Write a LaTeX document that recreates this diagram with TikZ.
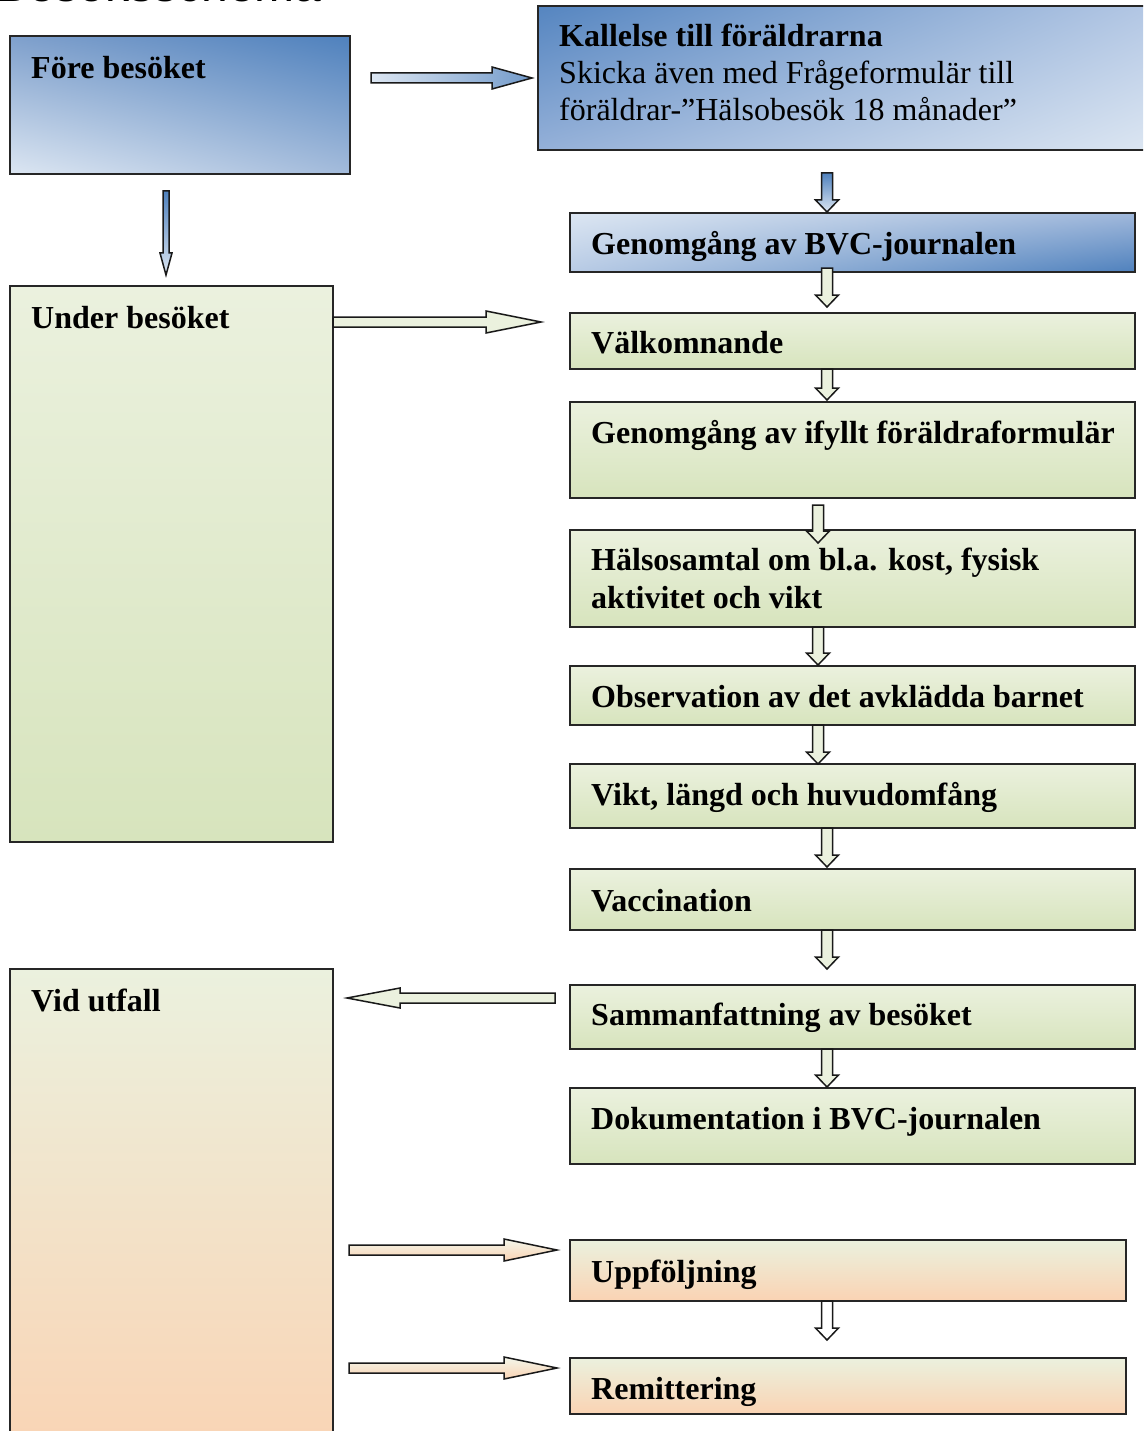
\documentclass[tikz,border=0pt]{standalone}
\usepackage{fontspec}
\setmainfont{Liberation Serif}
\setsansfont{Liberation Sans}
\usetikzlibrary{calc,shadings}
\definecolor{blueD}{HTML}{4F81BD}
\definecolor{blueM}{HTML}{95B3D7}
\definecolor{blueL}{HTML}{DCE6F2}
\definecolor{foreUL}{HTML}{7FA0CC}
\definecolor{foreLR}{HTML}{A3BBDB}
\definecolor{kallUL}{HTML}{5585C0}
\definecolor{kallUR}{HTML}{B3C7E4}
\definecolor{kallLL}{HTML}{94B0D8}
\definecolor{bvcUR}{HTML}{A0B8DB}
\definecolor{bvcLL}{HTML}{B8CBE5}
\definecolor{greenL}{HTML}{EBF1DE}
\definecolor{greenD}{HTML}{D7E4BD}
\definecolor{peach}{HTML}{FAD3B3}
\tikzset{
  box/.style={draw=black!85, line width=1.6pt, rectangle, inner sep=0pt, outer sep=0pt},
  bluebox/.style={box, shading=bilinear interpolation},
  greenbox/.style={box, top color=greenL, bottom color=greenD},
  peachbox/.style={box, top color=greenL, bottom color=peach},
  lbl/.style={anchor=base west, inner sep=0pt, font=\fontsize{32}{37}\selectfont\bfseries},
  lblr/.style={anchor=base west, inner sep=0pt, font=\fontsize{32}{37}\selectfont},
  arr/.style={draw=black!90, line width=1.5pt, line join=miter},
  arrblue/.style={arr, top color=blueD, bottom color=blueL},
  arrblueh/.style={arr, left color=blueL, right color=blueD!80},
  arrgreen/.style={arr, fill=greenL},
  arrpeach/.style={arr, top color=greenL!60!white, bottom color=peach},
}
% #1 style, #2 start, #3 tip, #4 shaft half, #5 head half, #6 head length
\newcommand\blockarrow[6]{%
  \coordinate (hb) at ($(#3)!#6!(#2)$);
  \draw[#1] ($(#2)!#4!90:(#3)$) -- ($(hb)!#4!-90:(#2)$) -- ($(hb)!#5!-90:(#2)$)
    -- (#3) -- ($(hb)!#5!90:(#2)$) -- ($(hb)!#4!90:(#2)$) -- ($(#2)!#4!-90:(#3)$) -- cycle;
}
\begin{document}
\begin{tikzpicture}[x=1pt,y=1pt]
\useasboundingbox[fill=white] (0,0) rectangle (1143,-1431);
\begin{scope}
\clip (0,0) rectangle (1143,-1431);
% clipped title
\node[anchor=base west, inner sep=0pt, font=\sffamily\fontsize{48}{50}\selectfont] (title) at (-4,-2) {Besöksschema};

% boxes
\node[bluebox, minimum width=340, minimum height=138,
  upper right=blueD, lower left=blueL, upper left=foreUL, lower right=foreLR] (fore) at (180,-105) {};
\node[bluebox, minimum width=612, minimum height=144,
  upper left=kallUL, lower right=blueL, upper right=kallUR, lower left=kallLL] (kall) at (844,-78) {};
\node[bluebox, minimum width=565, minimum height=59,
  upper left=blueL, lower right=blueD, upper right=bvcUR, lower left=bvcLL] (bvc) at (852.5,-242.5) {};
\node[greenbox, minimum width=323, minimum height=556] (under) at (171.5,-564) {};
\node[peachbox, minimum width=323, minimum height=500] (vid) at (171.5,-1219) {};
\node[greenbox, minimum width=565, minimum height=56] (valk) at (852.5,-341) {};
\node[greenbox, minimum width=565, minimum height=96] (ifyllt) at (852.5,-450) {};
\node[greenbox, minimum width=565, minimum height=97] (halso) at (852.5,-578.5) {};
\node[greenbox, minimum width=565, minimum height=59] (obs) at (852.5,-695.5) {};
\node[greenbox, minimum width=565, minimum height=64] (vikt) at (852.5,-796) {};
\node[greenbox, minimum width=565, minimum height=61] (vacc) at (852.5,-899.5) {};
\node[greenbox, minimum width=565, minimum height=64] (samm) at (852.5,-1017) {};
\node[greenbox, minimum width=565, minimum height=76] (dok) at (852.5,-1126) {};
\node[peachbox, minimum width=556, minimum height=61] (upp) at (848,-1270.5) {};
\node[peachbox, minimum width=556, minimum height=56] (rem) at (848,-1386) {};

% labels
\node[lbl] (tfore) at (31,-78.5) {Före besöket};
\node[lbl] (tkall1) at (559,-46.5) {Kallelse till föräldrarna};
\node[lblr] (tkall2) at (559,-83.5) {Skicka även med Frågeformulär till};
\node[lblr] (tkall3) at (559,-120.5) {föräldrar-”Hälsobesök 18 månader”};
\node[lbl] (tbvc) at (591,-254.5) {Genomgång av BVC-journalen};
\node[lbl] (tunder) at (31,-328.5) {Under besöket};
\node[lbl] (tvalk) at (591,-353.5) {Välkomnande};
\node[lbl] (tifyllt) at (591,-443.5) {Genomgång av ifyllt föräldraformulär};
\node[lbl] (thalso1) at (591,-570.5) {Hälsosamtal om bl.a. kost, fysisk};
\node[lbl] (thalso2) at (591,-608.5) {aktivitet och vikt};
\node[lbl] (tobs) at (591,-707.5) {Observation av det avklädda barnet};
\node[lbl] (tvikt) at (591,-805.5) {Vikt, längd och huvudomfång};
\node[lbl] (tvacc) at (591,-911.5) {Vaccination};
\node[lbl] (tvid) at (31,-1011.5) {Vid utfall};
\node[lbl] (tsamm) at (591,-1025.5) {Sammanfattning av besöket};
\node[lbl] (tdok) at (591,-1129.5) {Dokumentation i BVC-journalen};
\node[lbl] (tupp) at (591,-1282.5) {Uppföljning};
\node[lbl] (trem) at (591,-1399.5) {Remittering};

% arrow end points
\coordinate (a1s) at (371,-78);   \coordinate (a1e) at (532,-78);
\coordinate (a2s) at (166,-191);  \coordinate (a2e) at (166,-275);
\coordinate (a3s) at (333,-322);  \coordinate (a3e) at (541,-322);
\coordinate (a4s) at (555,-998);  \coordinate (a4e) at (347,-998);
\coordinate (a5s) at (349,-1250); \coordinate (a5e) at (557,-1250);
\coordinate (a6s) at (349,-1368); \coordinate (a6e) at (557,-1368);
\coordinate (d1s) at (827,-173);  \coordinate (d1e) at (827,-212);
\coordinate (d2s) at (827,-268);  \coordinate (d2e) at (827,-307);
\coordinate (d3s) at (827,-369);  \coordinate (d3e) at (827,-400);
\coordinate (d4s) at (818,-505);  \coordinate (d4e) at (818,-543);
\coordinate (d5s) at (818,-627);  \coordinate (d5e) at (818,-665);
\coordinate (d6s) at (818,-725);  \coordinate (d6e) at (818,-764);
\coordinate (d7s) at (827,-828);  \coordinate (d7e) at (827,-867);
\coordinate (d8s) at (827,-930);  \coordinate (d8e) at (827,-969);
\coordinate (d9s) at (827,-1049); \coordinate (d9e) at (827,-1087);
\coordinate (d10s) at (827,-1301); \coordinate (d10e) at (827,-1340);

% block arrows
\blockarrow{arrblueh}{a1s}{a1e}{5pt}{11pt}{40pt}
\blockarrow{arrblue}{a2s}{a2e}{3pt}{6pt}{22pt}
\blockarrow{arrgreen}{a3s}{a3e}{5pt}{11pt}{55pt}
\blockarrow{arrgreen}{a4s}{a4e}{5pt}{10pt}{53pt}
\blockarrow{arrpeach}{a5s}{a5e}{5pt}{11pt}{53pt}
\blockarrow{arrpeach}{a6s}{a6e}{5pt}{11pt}{53pt}
\blockarrow{arrblue}{d1s}{d1e}{5.5pt}{11.5pt}{12pt}
\foreach \k in {2,...,9}{\blockarrow{arrgreen}{d\k s}{d\k e}{5.5pt}{11.5pt}{12pt}}
\blockarrow{arr, fill=white}{d10s}{d10e}{5.5pt}{11.5pt}{12pt}
\end{scope}
\end{tikzpicture}
\end{document}
